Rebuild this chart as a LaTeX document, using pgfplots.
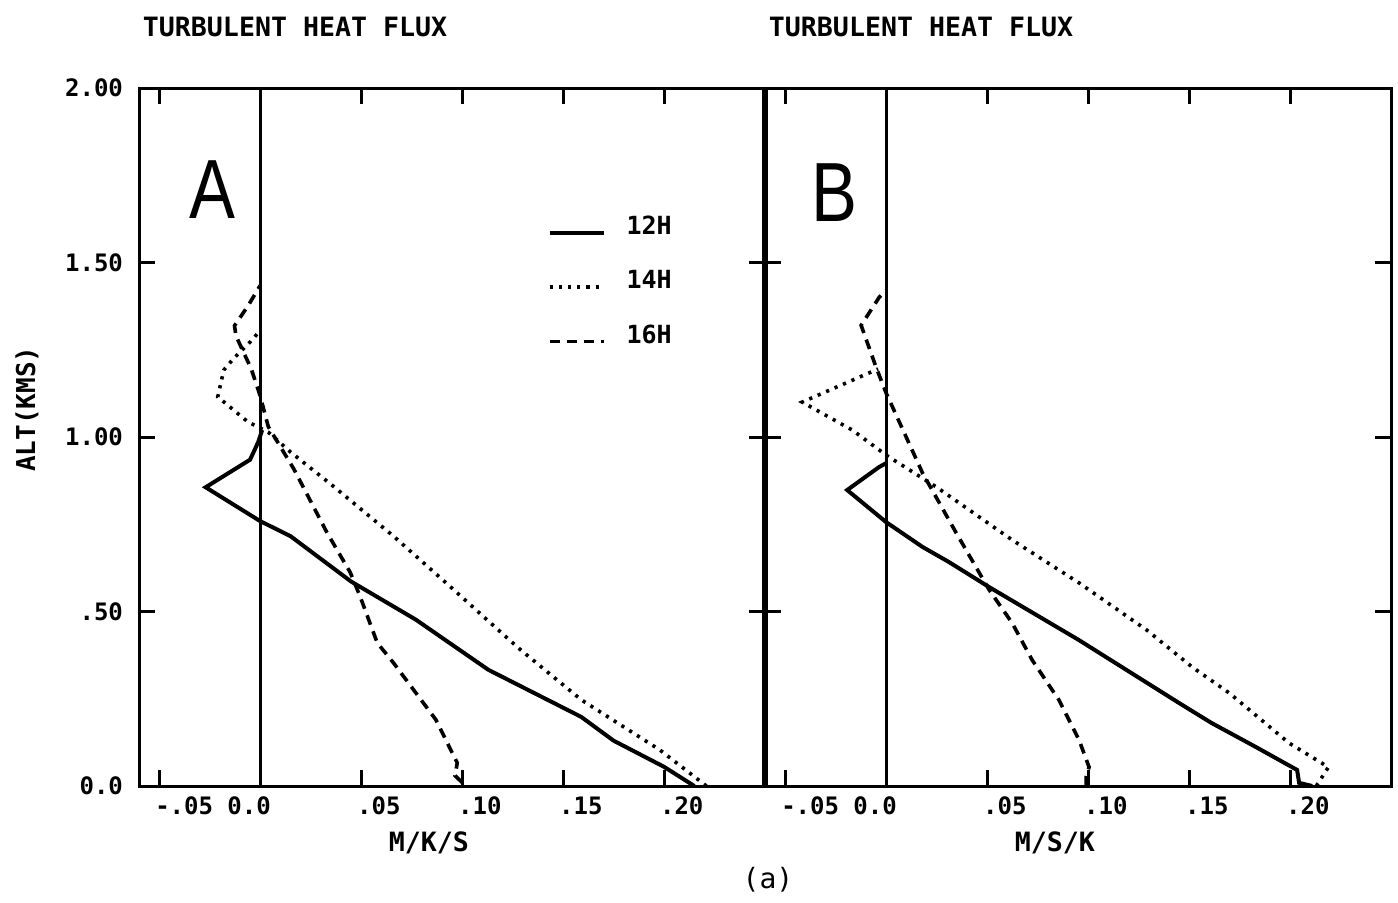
\documentclass[border=0pt]{standalone}
\usepackage{pgfplots}
\pgfplotsset{compat=1.18}
\usepackage{fontspec}
\setmainfont{DejaVu Sans Mono}
\newfontfamily\bigsans{Liberation Sans}

\pgfplotsset{
  panel/.style={
    scale only axis, width=313pt, height=349pt,
    xmin=-0.06, xmax=0.25, ymin=0, ymax=2,
    axis line style={line width=1.5pt},
    tick align=inside,
    xtick pos=both, ytick pos=both,
    xtick={-0.05,0.05,0.10,0.15,0.20},
    xticklabels={-.05,.05,.10,.15,.20},
    ytick={0,0.5,1,1.5,2},
    major tick length=8pt,
    every tick/.style={line width=1.5pt, black},
    tick label style={font=\fontsize{12}{12}\selectfont\bfseries},
    xticklabel style={anchor=north west, xshift=-5.5pt, yshift=-2pt},
    extra x ticks={0},
    extra x tick labels={0.0},
    extra x tick style={major tick length=0pt, xticklabel style={anchor=north, xshift=0pt}},
    title style={font=\fontsize{13.3}{13.3}\selectfont\bfseries, anchor=west, at={(rel axis cs:-0.005,1.0702)}},
    xlabel style={font=\fontsize{13.3}{13.3}\selectfont\bfseries, anchor=center, at={(rel axis cs:0.463,-0.0817)}},
    clip=false,
  },
  h12/.style={black, line width=2pt},
  h14/.style={black, line width=1.8pt, dash pattern=on 1.6pt off 3pt},
  h16/.style={black, line width=1.8pt, dash pattern=on 5pt off 3.5pt},
}

\begin{document}
\begin{tikzpicture}
\path[use as bounding box] (0,0) rectangle (699pt,451pt);

% ---------- Panel A ----------
\begin{axis}[panel,
  at={(69.5pt,58pt)}, anchor=south west,
  title={TURBULENT HEAT FLUX},
  xlabel={M/K/S},
  ylabel={ALT(KMS)},
  ylabel style={font=\fontsize{13}{13}\selectfont\bfseries, anchor=center, at={(rel axis cs:-0.179,0.54)}},
  yticklabels={0.0,.50,1.00,1.50,2.00},
  yticklabel style={xshift=-4.5pt},
  legend style={draw=none, fill=none, at={(rel axis cs:0.652,0.823)}, anchor=north west,
    font=\fontsize{12.5}{12.5}\selectfont\bfseries, row sep=12.5pt, inner sep=0pt,
    /tikz/every odd column/.append style={column sep=8.5pt}},
  legend cell align=left,
  legend image code/.code={\draw[#1] (0pt,-3pt) -- (27pt,-3pt);},
]
\draw[line width=1.5pt] (axis cs:0,0) -- (axis cs:0,2);
\addplot[h12] coordinates {
(0.215,0) (0.200,0.055) (0.175,0.13) (0.159,0.198) (0.113,0.333) (0.077,0.477)
(0.045,0.586) (0.015,0.716) (0.0,0.759) (-0.027,0.856) (-0.005,0.935)
(-0.001,0.985) (0.001,1.02)};
\addlegendentry{12H}
\addplot[h14] coordinates {
(0.221,0) (0.198,0.103) (0.159,0.247) (0.129,0.39) (0.1216,0.428) (0.094,0.572)
(0.066,0.716) (0.036,0.86) (0.015,0.957) (0.004,1.014) (-0.006,1.043)
(-0.021,1.115) (-0.018,1.192) (-0.013,1.226) (-0.005,1.272) (0.0,1.305)};
\addlegendentry{14H}
\addplot[h16] coordinates {
(0.100,0.01) (0.0965,0.03) (0.0976,0.066) (0.087,0.19) (0.066,0.353) (0.058,0.41)
(0.0495,0.543) (0.0446,0.612) (0.033,0.727) (0.0167,0.908) (0.004,1.03)
(0.0,1.118) (-0.0044,1.195) (-0.012,1.29) (-0.0127,1.319) (-0.006,1.376) (0.0,1.434)};
\addlegendentry{16H}
\node[font=\bigsans\fontsize{42}{42}\selectfont, xscale=0.82] at (axis cs:-0.0236,1.708) {A};
\end{axis}

% ---------- Panel B ----------
\begin{axis}[panel,
  at={(382.5pt,58pt)}, anchor=south west,
  title={TURBULENT HEAT FLUX},
  xlabel={M/S/K},
  yticklabels={},
]
\draw[line width=1.5pt] (axis cs:0,0) -- (axis cs:0,2);
\draw[line width=2.8pt] (rel axis cs:0,0) -- (rel axis cs:0,1);
\addplot[h12] coordinates {
(0.211,0) (0.2045,0.009) (0.2035,0.046) (0.183,0.112) (0.161,0.181) (0.145,0.238)
(0.0955,0.418) (0.051,0.570) (0.031,0.642) (0.018,0.685) (0.0,0.756)
(-0.0193,0.848) (-0.0035,0.914) (0.0,0.925)};
\addplot[h14] coordinates {
(0.213,0.0) (0.219,0.054) (0.1995,0.123) (0.170,0.266) (0.1515,0.341) (0.129,0.447)
(0.0955,0.582) (0.0624,0.705) (0.0248,0.857) (0.0,0.948) (-0.0035,0.963)
(-0.0168,1.02) (-0.0416,1.10) (-0.0198,1.155) (-0.004,1.195)};
\addplot[h16] coordinates {
(0.099,0.0) (0.099,0.026) (0.1005,0.054) (0.0955,0.132) (0.0856,0.246) (0.0723,0.361)
(0.0624,0.467) (0.051,0.562) (0.0347,0.725) (0.018,0.897) (0.0099,1.0) (0.0,1.126)
(-0.005,1.20) (-0.0124,1.32) (-0.0035,1.40) (0.0,1.42)};
\node[font=\bigsans\fontsize{42}{42}\selectfont, xscale=0.82] at (axis cs:-0.0257,1.70) {B};
\end{axis}

\node[font=\fontsize{14}{14}\selectfont] at (384pt,11pt) {(a)};
\end{tikzpicture}
\end{document}
